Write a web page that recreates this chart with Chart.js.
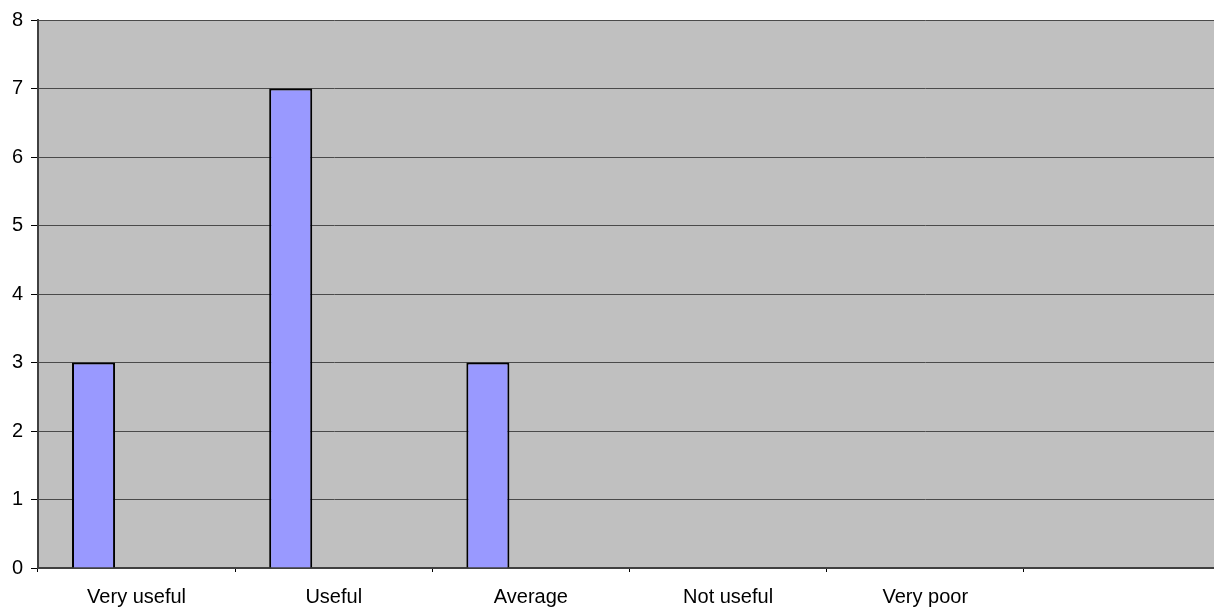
<!DOCTYPE html>
<html>
<head>
<meta charset="utf-8">
<script src="https://cdn.jsdelivr.net/npm/chart.js@4/dist/chart.umd.min.js"></script>
<style>
  html, body { margin: 0; padding: 0; background: #ffffff; overflow: hidden; }
  #wrap { width: 1221px; height: 610px; position: relative; }
</style>
</head>
<body>
<div id="wrap"><canvas id="chart"></canvas></div>
<script>
// Survey answers: how useful respondents found it
const categories = ['Very useful', 'Useful', 'Average', 'Not useful', 'Very poor', ''];
const responses = [3, 7, 3, null, null, null];
// Two further series in the workbook hold no answers
const seriesB = [null, null, null, null, null, null];
const seriesC = [null, null, null, null, null, null];
const yTicks = [0, 1, 2, 3, 4, 5, 6, 7, 8];

// Grey plot-area fill behind the bars
const plotBackground = {
  id: 'plotBackground',
  beforeDraw(chart) {
    const { ctx, chartArea: a } = chart;
    ctx.save();
    ctx.fillStyle = '#C0C0C0';
    ctx.fillRect(a.left, a.top, a.right - a.left, a.bottom - a.top);
    ctx.restore();
  }
};

const barStyle = {
  backgroundColor: '#9999FF',
  borderColor: '#000000',
  borderWidth: 2,
  borderSkipped: 'bottom',
  categoryPercentage: 0.655,
  barPercentage: 1.0
};

const labelFont = { family: 'Liberation Sans, Arial, sans-serif', size: 20 };

new Chart(document.getElementById('chart'), {
  type: 'bar',
  data: {
    labels: categories,
    datasets: [
      Object.assign({ label: 'Responses', data: responses }, barStyle),
      Object.assign({ label: 'B', data: seriesB }, barStyle),
      Object.assign({ label: 'C', data: seriesC }, barStyle)
    ]
  },
  options: {
    responsive: true,
    maintainAspectRatio: false,
    animation: false,
    layout: { padding: { top: 20, right: 0, left: 0, bottom: 0 } },
    plugins: {
      legend: { display: false },
      tooltip: { enabled: false }
    },
    scales: {
      x: {
        offset: true,
        grid: {
          offset: true,
          drawOnChartArea: false,
          drawTicks: true,
          tickLength: 4,
          tickWidth: 1,
          tickColor: '#000000'
        },
        border: { color: '#404040', width: 2 },
        ticks: {
          color: '#000000',
          font: labelFont,
          padding: 13,
          maxRotation: 0,
          autoSkip: false
        },
        afterFit(scale) { scale.height = 42; }
      },
      y: {
        min: 0,
        max: 8,
        afterBuildTicks(scale) { scale.ticks = yTicks.map(v => ({ value: v })); },
        grid: {
          color: '#4a4a4a',
          lineWidth: 1,
          drawTicks: true,
          tickLength: 7,
          tickColor: '#000000'
        },
        border: { color: '#404040', width: 2 },
        ticks: {
          color: '#000000',
          font: labelFont,
          padding: 8
        },
        afterFit(scale) { scale.width = 38; }
      }
    }
  },
  plugins: [plotBackground]
});
</script>
</body>
</html>
